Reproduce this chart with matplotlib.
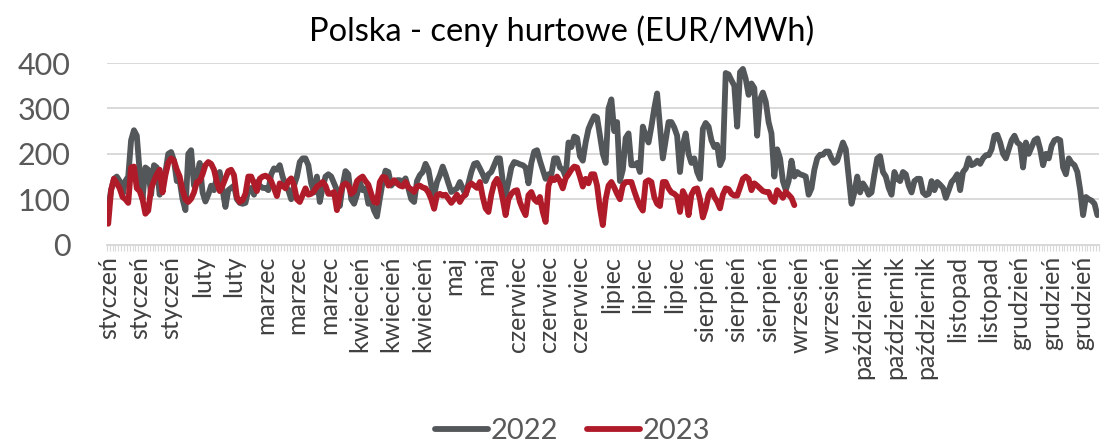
import matplotlib
matplotlib.use('Agg')
import matplotlib.pyplot as plt
import numpy as np

# daily wholesale prices, EUR/MWh
prices_2022 = [
    80, 120, 145, 150, 140, 110, 140, 150, 230, 252, 240, 160, 100, 170, 165, 110, 175, 170, 110, 150,
    160, 200, 204, 185, 140, 140, 100, 76, 200, 208, 130, 150, 180, 115, 95, 110, 130, 120, 150, 160,
    120, 83, 120, 125, 130, 100, 92, 90, 92, 120, 125, 110, 138, 130, 125, 125, 120, 155, 168, 165,
    175, 150, 130, 120, 100, 130, 150, 182, 190,
    190, 175, 135, 115, 150, 94, 125, 150, 155, 150, 135, 120, 85, 130, 162, 155, 100, 90, 110, 138,
    120, 124, 90, 95, 75, 62, 101, 138, 163, 160, 130, 138, 142, 142, 138, 146, 124, 100, 94, 140,
    153, 160, 178, 165, 130, 110, 138, 153, 172, 155, 135, 116, 120, 124, 138, 124, 110, 135, 160, 178,
    180, 168, 155, 140, 155, 160, 175, 190, 190,
    140, 109, 138, 170, 182, 180, 177, 175, 170, 135, 180, 205, 208, 185, 165, 145, 155, 155, 190, 190,
    170, 165, 150, 225, 215, 238, 235, 195, 185, 225, 255, 270, 283, 280, 240, 200, 180, 300, 320, 250,
    270, 140, 165, 235, 245, 175, 175, 180, 160, 260, 240, 225, 260, 300, 333, 260, 190, 230, 270, 270,
    258, 240, 160, 220, 245, 200, 180, 190,
    160, 145, 255, 268, 260, 230, 215, 220, 175, 190, 378, 375, 362, 350, 260, 380, 387, 365, 330, 355,
    345, 240, 320, 335, 315, 270, 245, 150, 210, 190, 140, 120, 140, 185, 150, 160, 155, 153, 150, 110,
    124, 165, 190, 198, 198, 205, 205, 190, 180, 185, 205, 225, 210, 150, 90, 115, 150, 115, 135, 125,
    110, 115, 155, 190, 195, 160, 150, 125,
    110, 160, 145, 140, 160, 155, 130, 115, 140, 145, 145, 115, 109, 112, 140, 120, 138, 132, 125, 103,
    120, 138, 145, 155, 120, 160, 168, 190, 175, 178, 185, 178, 190, 197, 197, 210, 240, 242, 225, 200,
    190, 210, 230, 240, 225, 220, 170, 225, 200, 215, 230, 234, 210, 175, 200, 190, 218, 230, 233, 230,
    170, 155, 190, 180, 175, 160, 120, 65, 105, 100, 97, 90, 65,
]
prices_2023 = [
    46, 120, 145, 135, 124, 105, 100, 92, 170, 172, 124, 118, 100, 68, 75, 124, 140, 155, 165, 115,
    153, 180, 190, 185, 165, 150, 120, 100, 94, 101, 115, 138, 140, 155, 175, 182, 178, 165, 138, 118,
    130, 146, 162, 165, 153, 105, 94, 98, 112, 150, 150, 135, 118, 145, 150, 152, 148, 140, 124, 107,
    135, 130, 124, 140, 146, 130, 100, 94, 109,
    124, 110, 112, 118, 128, 132, 138, 130, 112, 112, 116, 76, 109, 130, 135, 130, 112, 118, 140, 146,
    150, 140, 132, 112, 94, 92, 138, 149, 148, 130, 135, 142, 135, 130, 128, 138, 126, 122, 116, 128,
    130, 126, 124, 115, 100, 79, 109, 112, 108, 110, 101, 92, 100, 110, 94, 105, 110, 128, 135, 130,
    125, 138, 105, 80, 72, 110, 135, 145, 130,
    100, 65, 100, 112, 118, 120, 94, 78, 65, 109, 116, 100, 94, 105, 72, 50, 130, 146, 142, 150,
    140, 124, 146, 155, 165, 172, 170, 150, 128, 145, 135, 155, 155, 130, 80, 43, 100, 130, 138, 126,
    112, 100, 130, 138, 138, 138, 118, 100, 85, 75, 138, 142, 138, 105, 90, 85, 138, 138, 124, 115,
    112, 106, 72, 118, 105, 65, 110, 122,
    124, 100, 60, 80, 110, 120, 105, 95, 80, 110, 124, 122, 112, 108, 108, 126, 145, 150, 145, 120,
    135, 130, 124, 118, 116, 116, 100, 94, 120, 112, 103, 116, 110, 103, 87,
]
tick_labels = (['styczeń'] * 3 + ['luty'] * 2 + ['marzec'] * 3 + ['kwiecień'] * 3 + ['maj'] * 2
               + ['czerwiec'] * 3 + ['lipiec'] * 3 + ['sierpień'] * 3 + ['wrzesień'] * 2
               + ['październik'] * 3 + ['listopad'] * 2 + ['grudzień'] * 3)
label_step = 11

plt.rcParams['font.family'] = ['Lato', 'DejaVu Sans']

fig = plt.figure(figsize=(11.01, 4.44), dpi=100)
ax = fig.add_axes([0.097, 0.449, 0.901, 0.409])

n = len(prices_2022)
x22 = np.arange(n)
x23 = np.arange(len(prices_2023))

ax.plot(x22, prices_2022, color='#53575A', lw=4.2, solid_joinstyle='round',
        solid_capstyle='round', label='2022', zorder=3)
ax.plot(x23, prices_2023, color='#B01B2A', lw=4.2, solid_joinstyle='round',
        solid_capstyle='round', label='2023', zorder=4)

ax.set_xlim(-0.5, n - 0.5)
ax.set_ylim(0, 400)
ax.set_yticks([0, 100, 200, 300, 400])
ax.grid(axis='y', color='#D9D9D9', lw=1.4)
ax.set_axisbelow(True)

# one tick per category, labels every 11th category
ax.set_xticks(np.arange(-0.5, n, 1), minor=True)
ax.set_xticks(np.arange(0, n, label_step)[:len(tick_labels)])
ax.set_xticklabels(tick_labels, rotation=90, fontsize=18, color='#404040')
ax.tick_params(axis='x', which='major', length=0, pad=8)
ax.tick_params(axis='x', which='minor', length=4, color='#D9D9D9', width=0.8)
ax.tick_params(axis='y', length=0, pad=26, labelsize=22, labelcolor='#595959')

for s in ['top', 'right', 'left']:
    ax.spines[s].set_visible(False)
ax.spines['bottom'].set_color('#D9D9D9')
ax.spines['bottom'].set_linewidth(1.4)

fig.text(0.51, 0.93, 'Polska - ceny hurtowe (EUR/MWh)', ha='center', va='center',
         fontsize=23.5, color='#000000')

fig.legend(loc='lower center', bbox_to_anchor=(0.52, -0.06), ncol=2, frameon=False,
           fontsize=21, handlelength=1.8, handletextpad=0.1, columnspacing=1.0,
           labelcolor='#595959')

fig.savefig('out.png', dpi=100)
